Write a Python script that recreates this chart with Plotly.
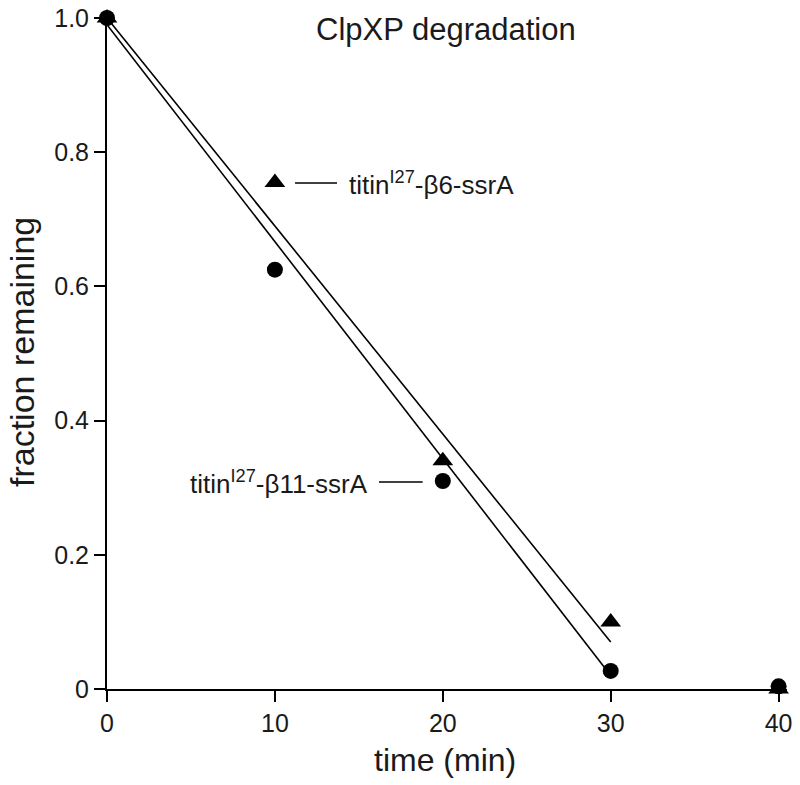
import plotly.graph_objects as go

# Data
time_min = [0, 10, 20, 30, 40]
b6_ssrA = [1.0, 0.755, 0.34, 0.10, 0.0]      # triangles
b11_ssrA = [1.0, 0.625, 0.31, 0.027, 0.004]  # circles

fit_x = [0, 30]
fit_b6 = [1.0, 0.07]
fit_b11 = [0.99, 0.02]

x_ticks = [0, 10, 20, 30, 40]
y_ticks = [0, 0.2, 0.4, 0.6, 0.8, 1.0]
y_ticklabels = ["0", "0.2", "0.4", "0.6", "0.8", "1.0"]

FONT = "Liberation Sans, Arial, Helvetica, sans-serif"
INK = "#1a1a1a"

W, H = 800, 785
L, R, T, B = 107, 13, 18, 96
PW, PH = W - L - R, H - T - B


def px(xp):
    return (xp - L) / PW


def py(yp):
    return (H - B - yp) / PH


fig = go.Figure()

fig.add_trace(go.Scatter(x=fit_x, y=fit_b6, mode="lines",
                         line=dict(color="black", width=1.6), showlegend=False))
fig.add_trace(go.Scatter(x=fit_x, y=fit_b11, mode="lines",
                         line=dict(color="black", width=1.6), showlegend=False))

fig.add_trace(go.Scatter(x=time_min, y=b6_ssrA, mode="markers",
                         marker=dict(symbol="triangle-up", size=18, color="black"),
                         cliponaxis=False, showlegend=False))
fig.add_trace(go.Scatter(x=time_min, y=b11_ssrA, mode="markers",
                         marker=dict(symbol="circle", size=16, color="black"),
                         cliponaxis=False, showlegend=False))

# leader lines for labels
fig.add_shape(type="line", xref="x", yref="y", x0=11.2, x1=13.7, y0=0.754, y1=0.754,
              line=dict(color="black", width=1.6))
fig.add_shape(type="line", xref="x", yref="y", x0=16.2, x1=18.8, y0=0.3085, y1=0.3085,
              line=dict(color="black", width=1.6))

fig.add_annotation(x=14.3, y=0.754, xref="x", yref="y", xanchor="left", yanchor="middle",
                   text="titin<sup>I27</sup>-β6-ssrA", showarrow=False,
                   font=dict(family=FONT, size=26, color=INK))
fig.add_annotation(x=15.65, y=0.3085, xref="x", yref="y", xanchor="right", yanchor="middle",
                   text="titin<sup>I27</sup>-β11-ssrA", showarrow=False,
                   font=dict(family=FONT, size=26, color=INK))

# chart title
fig.add_annotation(x=px(446), y=py(30), xref="paper", yref="paper", showarrow=False,
                   xanchor="center", yanchor="middle",
                   text="ClpXP degradation", font=dict(family=FONT, size=31, color=INK))
# axis titles
fig.add_annotation(x=px(445), y=py(760), xref="paper", yref="paper", showarrow=False,
                   xanchor="center", yanchor="middle",
                   text="time (min)", font=dict(family=FONT, size=32, color=INK))
fig.add_annotation(x=px(22), y=py(352), xref="paper", yref="paper", showarrow=False,
                   xanchor="center", yanchor="middle", textangle=-90,
                   text="fraction remaining", font=dict(family=FONT, size=34, color=INK))

fig.update_layout(
    width=W, height=H,
    margin=dict(l=L, r=R, t=T, b=B, autoexpand=False),
    plot_bgcolor="white", paper_bgcolor="white",
    font=dict(family=FONT, color=INK),
    showlegend=False,
)

fig.update_xaxes(range=[0, 40.5], tickvals=x_ticks, ticks="outside", ticklen=11, tickwidth=2,
                 tickcolor="black", showline=True, linecolor="black", linewidth=2,
                 showgrid=False, zeroline=False, automargin=False,
                 tickfont=dict(family=FONT, size=25, color=INK))
fig.update_yaxes(range=[0, 1.0], tickvals=y_ticks, ticktext=y_ticklabels, ticks="outside",
                 ticklen=11, tickwidth=2, tickcolor="black", showline=True, linecolor="black",
                 linewidth=2, showgrid=False, zeroline=False, automargin=False,
                 tickfont=dict(family=FONT, size=25, color=INK))

fig.write_html("out.html", config={"displayModeBar": False},
               post_script="document.body.style.margin='0';document.body.style.padding='0';")
